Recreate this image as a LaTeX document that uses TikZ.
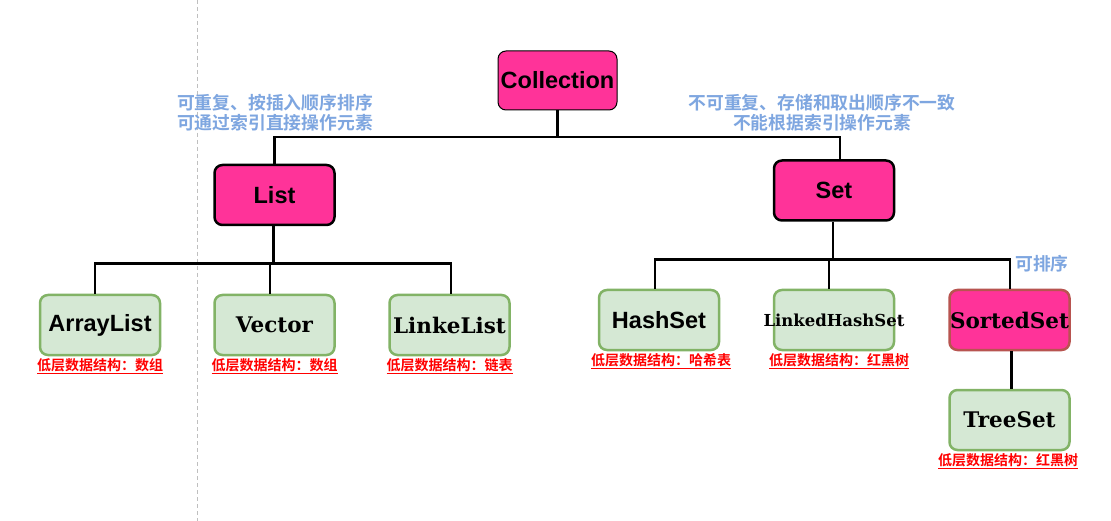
\documentclass[tikz,border=0pt]{standalone}
\usepackage{fontspec}
\setmainfont{DejaVu Serif}
\setsansfont{Liberation Sans}
\newfontfamily\cjk{Noto Sans CJK SC}[BoldFont={Noto Sans CJK SC Bold}]
\usetikzlibrary{calc}
\definecolor{pinkf}{HTML}{FF3399}
\definecolor{greenf}{HTML}{D5E8D4}
\definecolor{greend}{HTML}{82B366}
\definecolor{redd}{HTML}{B85450}
\definecolor{bluet}{HTML}{7EA6E0}
\definecolor{redt}{HTML}{FF0000}
\tikzset{
  box/.style={rounded corners=8pt, line width=2.5pt, minimum width=120pt, minimum height=60pt, inner sep=0pt},
  pinkbox/.style={box, fill=pinkf, draw=black},
  greenbox/.style={box, fill=greenf, draw=greend},
  sanstext/.style={font=\sffamily\bfseries\fontsize{23.5}{26}\selectfont},
  seriftext/.style={font=\rmfamily\bfseries\fontsize{21.5}{25}\selectfont},
  conn/.style={line width=2.8pt},
  bluelab/.style={text=bluet, font=\cjk\bfseries\fontsize{17.8}{20}\selectfont, align=center, inner sep=0pt},
  redlab/.style={text=redt, font=\cjk\bfseries\fontsize{14}{16}\selectfont, inner sep=0pt}
}
\begin{document}
\begin{tikzpicture}[x=1pt,y=-1pt]
\useasboundingbox[fill=white] (0,0) rectangle (1111,521);
\draw[black!25, line width=0.8pt, dash pattern=on 4pt off 3pt] (197,0) -- (197,521);

\node[pinkbox, sanstext, line width=1pt, minimum width=119pt, minimum height=59pt] (coll) at (557.5,80.5) {Collection};
\node[pinkbox, sanstext] (list) at (274.5,195) {List};
\node[pinkbox, sanstext] (set) at (834,190.5) {Set};

\node[greenbox, sanstext] (al) at (100,325) {ArrayList};
\node[greenbox, seriftext] (ve) at (274.5,325) {Vector};
\node[greenbox, seriftext] (ll) at (449.5,325) {\makebox[0pt][c]{LinkeList}};
\node[greenbox, sanstext] (hs) at (659,320) {HashSet};
\node[greenbox, font=\rmfamily\bfseries\fontsize{16.5}{20}\selectfont] (lhs) at (834,320) {\makebox[0pt][c]{LinkedHashSet}};
\node[box, fill=pinkf, draw=redd, seriftext] (ss) at (1009.5,320) {\makebox[0pt][c]{SortedSet}};
\node[greenbox, seriftext] (ts) at (1009.5,420) {TreeSet};

\draw[conn] (coll.south) -- ++(0,26.5) coordinate (j1);
\draw[conn] (list.north) |- (j1) -| ([xshift=6pt]set.north);

\draw[conn] ([xshift=-1pt]list.south) -- ++(0,37) coordinate (j2);
\draw[conn] ([xshift=-5pt]al.north) |- (j2) -| ([xshift=1.5pt]ll.north);
\draw[conn] ([xshift=-4.5pt]ve.north) -- ([xshift=-4.5pt]ve.north |- j2);

\draw[conn] ([xshift=-1pt]set.south) -- ++(0,38) coordinate (j3);
\draw[conn] ([xshift=-4pt]hs.north) |- (j3) -| ([xshift=0.5pt]ss.north);
\draw[conn] ([xshift=-5pt]lhs.north) -- ([xshift=-5pt]lhs.north |- j3);
\draw[conn] ([xshift=2pt]ss.south) -- ([xshift=2pt]ts.north);

\node[bluelab] (ltext) at (275,113) {可重复、按插入顺序排序\\可通过索引直接操作元素};
\node[bluelab] (rtext) at (822,113) {不可重复、存储和取出顺序不一致\\不能根据索引操作元素};
\node[bluelab] (sortlab) at (1042,264) {可排序};

\node[redlab] (al-l) at (100,366) {\underline{低层数据结构：数组}};
\node[redlab] (ve-l) at (274.5,366) {\underline{低层数据结构：数组}};
\node[redlab] (ll-l) at (449.5,366) {\underline{低层数据结构：链表}};
\node[redlab] (hs-l) at (661,361) {\underline{低层数据结构：哈希表}};
\node[redlab] (lhs-l) at (839,361) {\underline{低层数据结构：红黑树}};
\node[redlab] (ts-l) at (1008,461) {\underline{低层数据结构：红黑树}};
\end{tikzpicture}
\end{document}
